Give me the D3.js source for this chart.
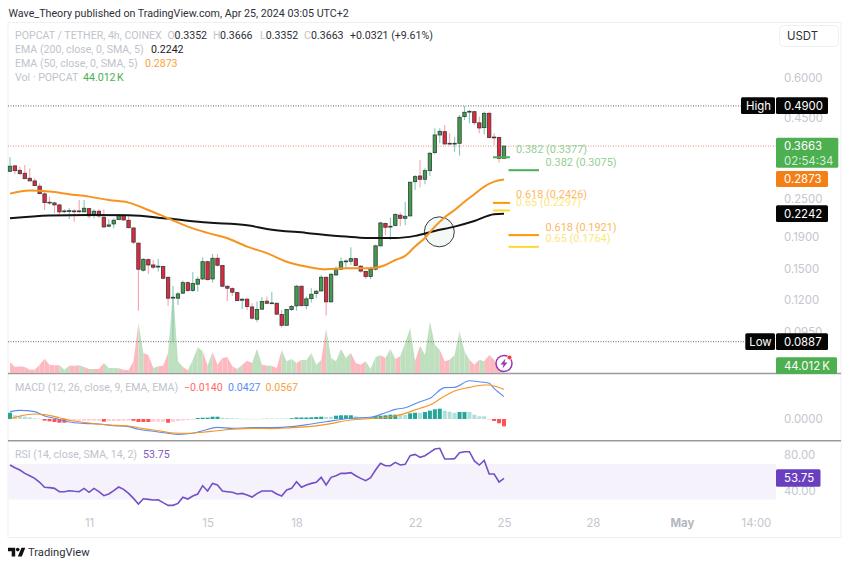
<!DOCTYPE html>
<html><head><meta charset="utf-8">
<script src="https://cdnjs.cloudflare.com/ajax/libs/d3/7.8.5/d3.min.js"></script>
<style>html,body{margin:0;padding:0;background:#fff}svg{display:block}text{font-family:Inter,"Noto Sans",sans-serif}</style>
</head><body><svg id="c" width="850" height="567"></svg>
<script>
// ---- values ----
const opens=[.3051,.3172,.3073,.3008,.2901,.2845,.2738,.2590,.2438,.2426,.2391,.2278,.2278,.2289,.2289,.2273,.2327,.2212,.2284,.2187,.2048,.2083,.2149,.2219,.2139,.2023,.1812,.1489,.1608,.1547,.1525,.1529,.1415,.1218,.1216,.1261,.1361,.1285,.1346,.1398,.1584,.1398,.1624,.1540,.1326,.1303,.1266,.1198,.1207,.1141,.1044,.1123,.1190,.1169,.1172,.1080,.0999,.1120,.1150,.1326,.1152,.1212,.1257,.1282,.1415,.1184,.1439,.1500,.1584,.1589,.1620,.1533,.1476,.1422,.1500,.1777,.2088,.2038,.2058,.2219,.2170,.2208,.2830,.2949,.2880,.3065,.3493,.3970,.4066,.3738,.3720,.3738,.4535,.4690,.4700,.4335,.4187,.4645,.3910,.3897,.3352];
const closes=[.3165,.3065,.2999,.2892,.2845,.2750,.2595,.2431,.2426,.2391,.2273,.2289,.2294,.2278,.2284,.2334,.2208,.2284,.2208,.2038,.2068,.2139,.2224,.2144,.2027,.1825,.1500,.1612,.1547,.1522,.1533,.1405,.1216,.1224,.1254,.1361,.1285,.1352,.1395,.1584,.1391,.1624,.1544,.1326,.1307,.1270,.1195,.1207,.1144,.1052,.1120,.1187,.1172,.1175,.1083,.0999,.1120,.1144,.1326,.1152,.1210,.1251,.1279,.1415,.1184,.1446,.1500,.1584,.1592,.1620,.1540,.1480,.1422,.1500,.1777,.2098,.2033,.2048,.2229,.2170,.2202,.2818,.2935,.2880,.3065,.3476,.3970,.4077,.3720,.3720,.3738,.4514,.4680,.4712,.4340,.4177,.4645,.3897,.3897,.3352,.3663];
const highs=[.3378,.3195,.3156,.3195,.3118,.2901,.2798,.2633,.2539,.2448,.2408,.2317,.2334,.2317,.2478,.2478,.2334,.2317,.2317,.2317,.2155,.2170,.2240,.2240,.2224,.2033,.1820,.1624,.1624,.1604,.1616,.1536,.1422,.1329,.1275,.1381,.1371,.1467,.1422,.1636,.1596,.1676,.1676,.1547,.1332,.1316,.1275,.1216,.1216,.1172,.1187,.1224,.1230,.1275,.1178,.1117,.1123,.1158,.1339,.1332,.1230,.1307,.1291,.1439,.1422,.1463,.1529,.1632,.1612,.1760,.1624,.1547,.1486,.1529,.1790,.2118,.2103,.2179,.2251,.2261,.2448,.2830,.2971,.3312,.3118,.3518,.4167,.4167,.4270,.4018,.3921,.4590,.4900,.4758,.4725,.4535,.4700,.4700,.4018,.3921,.3666];
const lows=[.3036,.2993,.2971,.2880,.2845,.2744,.2582,.2305,.2391,.2251,.2208,.2251,.2160,.2118,.2251,.2273,.2170,.2170,.2176,.2027,.2043,.2019,.2144,.2133,.2019,.1799,.1111,.1476,.1450,.1500,.1476,.1395,.1150,.0887,.1158,.1254,.1275,.1275,.1275,.1388,.1381,.1361,.1529,.1316,.1192,.1236,.1187,.1123,.1117,.1039,.1022,.1117,.1164,.1167,.1078,.0983,.0997,.1109,.1111,.1144,.1123,.1178,.1216,.1275,.1072,.1178,.1429,.1492,.1510,.1547,.1536,.1463,.1398,.1395,.1486,.1769,.1924,.1855,.2043,.2053,.2068,.2197,.2665,.2718,.2778,.2949,.3453,.3738,.3693,.3693,.3518,.3417,.4426,.4320,.4270,.4018,.3990,.3875,.3693,.3250,.3352];
const ema50Idx=[0,4,8,12,16,20,24,28,32,36,40,44,48,52,56,60,64,68,72,74,76,78,80,82,84,86,88,90,92,94,96,98,100];
const ema50=[.2595,.2652,.2633,.2584,.2539,.2478,.2431,.2305,.2170,.2043,.1952,.1878,.1767,.1685,.1584,.1529,.1500,.1510,.1510,.1516,.1547,.1604,.1652,.1770,.1882,.2043,.2187,.2305,.2448,.2584,.2730,.2830,.2873];
const ema200Idx=[0,8,16,24,32,40,48,52,60,68,72,78,82,86,90,94,98,100];
const ema200=[.2170,.2213,.2224,.2219,.2165,.2103,.2063,.2009,.1952,.1900,.1882,.1882,.1910,.1980,.2043,.2128,.2235,.2242];
const volumes=[60.5,33,36.9,33,18.2,18.2,45.7,78.7,45.7,42.4,42.4,18.2,40.2,40.2,42.4,33,22,22,22,55,27.5,27.5,25.9,18.2,14.9,64.4,275,110,99,27.5,36.9,40.2,110,456.5,64.4,33,14.9,71.5,141.4,119.4,40.2,115.5,45.7,82.5,88,36.9,22,45.7,67.7,55,132,45.7,40.2,40.2,27.5,126.5,64.4,77,55,73.2,69.9,110,45.7,71.5,242,82.5,64.4,132,82.5,110,55,45.7,64.4,22,88,97.4,82.5,132,77,91.9,165,247.5,64.4,150.2,99,284.4,155.7,126.5,64.4,73.2,99,229.4,119.4,73.2,45.7,73.2,64.4,99,73.2,27.5,44.012];
const macdHist=[.0120,.0071,.0057,.0044,.0032,.0013,.0006,-.0032,-.0044,-.0057,-.0071,-.0071,-.0038,-.0038,-.0032,-.0032,-.0032,-.0032,-.0032,-.0052,-.0038,-.0038,-.0038,-.0032,-.0032,-.0034,-.0057,-.0057,-.0057,-.0052,-.0052,-.0052,-.0071,-.0052,-.0038,-.0029,-.0019,-.0013,.0019,.0025,.0025,.0044,.0044,.0025,.0019,.0015,.0011,.0006,.0004,-.001,-.001,.0006,.0013,.001,.001,.001,.001,.0015,.0029,.0029,.0029,.0032,.0038,.0044,.0038,.0044,.0063,.0071,.0071,.0071,.0052,.0032,.0038,.0038,.0057,.0063,.0071,.0082,.0082,.0076,.0076,.0109,.0120,.0120,.0134,.0159,.0185,.0197,.0159,.0139,.0120,.0134,.0134,.0134,.0082,.0052,.0052,-.0019,-.0038,-.0082,-.0140];
const histStrong=[1,0,0,0,0,0,0,1,1,1,1,1,0,0,0,0,0,0,0,1,0,0,0,0,0,1,1,1,1,0,0,0,1,0,0,0,0,0,1,1,1,1,1,0,0,0,0,0,0,0,0,0,0,0,0,0,0,1,1,1,1,1,1,1,0,0,1,1,1,1,0,0,0,0,1,1,1,1,1,0,0,1,1,0,1,1,1,1,0,0,0,1,1,0,0,0,0,0,1,1,1];
const macdIdx=[0,2,5,7,9,12,15,18,21,24,26,29,32,34,37,39,42,45,49,53,57,61,64,69,73,76,78,80,83,85,88,90,93,95,97,98,100];
const macdLine=[.0140,.0165,.0140,.0057,.0013,-.0057,-.0083,-.0095,-.0127,-.0146,-.0197,-.0235,-.0273,-.0293,-.0273,-.0223,-.0159,-.0178,-.0165,-.0165,-.0146,-.0095,-.0051,.0013,.0032,.0121,.0184,.0216,.0331,.0394,.0598,.0604,.0731,.0712,.0681,.0585,.0427];
const signalIdx=[0,2,5,7,10,12,16,20,24,27,30,33,36,39,42,45,49,53,57,61,64,69,74,78,83,85,88,90,93,96,97,98,100];
const signalLine=[0,.0057,.0095,.0083,.0025,-.0025,-.0076,-.0114,-.0134,-.0184,-.0223,-.0267,-.0273,-.0254,-.0223,-.0197,-.0178,-.0184,-.0165,-.0140,-.0102,-.0019,.0013,.0057,.0204,.0267,.0439,.0534,.0604,.0649,.0649,.0630,.0567];
const rsi=[68.8,65.8,63.2,59.4,56.8,53.8,49.4,43.8,43.4,42.6,38.9,38.9,40,39.3,38.9,42.6,38.2,42.6,38.9,34.4,36.3,40,44.1,41.5,37,31.4,25.1,31,30.3,29.6,29.9,26.6,23.6,23.6,25.8,32.6,30.7,34,36.3,45.6,39.7,48.2,46.4,39.7,38.9,38.2,36.3,37,35.2,32.9,36.7,39.7,39.7,39.7,36.3,34,40.8,42.6,50.1,43.8,46.4,48.2,49.4,55,46.4,55,56.8,59.4,59.4,60.2,56.8,53.8,51.2,54.6,63.2,70.7,68,68,71.8,68.8,69.5,79.2,80.7,77.4,79.2,83,86.7,87.5,75.5,75.5,75.9,82.6,83.7,83.7,73.3,68.8,74,58.7,58.7,49.7,53.75];
const priceTicks=[0.6,0.45,0.25,0.19,0.15,0.12,0.095];
const rsiTicks=[80,40];
const xTickIdx=[16,40,58,82,100,118,136,151];
const xTickLabels=["11","15","18","22","25","28","May","14:00"];
const fibLevels=["0.382","0.382","0.618","0.65","0.618","0.65"];
const fibPrices=[.3377,.3075,.2426,.2297,.1921,.1764];
const fibNear=[1,0,1,1,0,0];
const fibColors=["#4caf50","#4caf50","#ff9800","#fdd835","#ff9800","#fdd835"];
const fibTextColors=["#93cf95","#93cf95","#fdb863","#fbe77c","#fdb863","#fbe77c"];
const legendMain=["POPCAT / TETHER, 4h, COINEX"];
const ohlcLabels=["O","H","L","C"];
const ohlcValues=["0.3352","0.3666","0.3352","0.3663"];

// ---- layout ----
const svg=d3.select("#c");
const GREEN="#3f9e4d",RED="#e2283e",EDGE="#3a3a3a";
const LEG=10.6;
const x=d3.scaleLinear().domain([0,100]).range([10,504]);
const y=d3.scaleLog().domain([0.6,0.12]).range([78,300]);
const yVol=d3.scaleLinear().domain([0,550]).range([373,273]);
const yM=d3.scaleLinear().domain([0,0.1]).range([419,366.6]);
const yR=d3.scaleLinear().domain([40,80]).range([490.7,455]);
const n=closes.length;
const T=(a,b,s,o={})=>{const t=svg.append("text").attr("x",a).attr("y",b).text(s)
  .attr("font-size",o.size||LEG).attr("fill",o.fill||"#b8bcc6").attr("text-anchor",o.anchor||"start")
  .attr("dominant-baseline","central").attr("font-weight",o.weight||400);
  if((o.size||LEG)!==11.4) t.style("font-family","Roboto");
  return t;};

T(8.5,13,"Wave_Theory published on TradingView.com, Apr 25, 2024 03:05 UTC+2",{fill:"#2e3038",size:10.7});
svg.append("rect").attr("x",8).attr("y",22.5).attr("width",833).attr("height",515).attr("fill","#fff").attr("stroke","#eef0f3");

// RSI band
svg.append("rect").attr("x",8.5).attr("width",767.5).attr("y",yR(70)).attr("height",yR(30)-yR(70)).attr("fill","#f5f2fb");

// separators
[373.5,440.7].forEach(s=>svg.append("line").attr("x1",8).attr("x2",841).attr("y1",s).attr("y2",s).attr("stroke","#9a9a9e").attr("stroke-width",1.4));

// volume area: one segment per candle
const volG=svg.append("g");
for(let i=1;i<n;i++){
  const up=closes[i]>=opens[i];
  volG.append("path").attr("fill",up?"#bfe0bf":"#fcb9c0")
    .attr("d",`M${x(i-1)},${yVol(0)}L${x(i-1)},${yVol(volumes[i-1])}L${x(i)},${yVol(volumes[i])}L${x(i)},${yVol(0)}Z`);
}
// level lines
const dotted=(yy,x2,c)=>svg.append("line").attr("x1",8).attr("x2",x2).attr("y1",yy).attr("y2",yy).attr("stroke",c).attr("stroke-width",1).attr("stroke-dasharray","1 1.5");
dotted(y(0.49),741,"#666");
dotted(y(0.3663),776,"#e0907f");
dotted(y(0.0887),745,"#666");

// wicks and bodies
const wickG=svg.append("g"),bodyG=svg.append("g");
closes.forEach((c,i)=>{
  const up=c>=opens[i];
  wickG.append("line").attr("x1",x(i)).attr("x2",x(i)).attr("y1",y(highs[i])).attr("y2",y(lows[i]))
    .attr("stroke",up?"#82c9bd":"#f7a3ad").attr("stroke-width",1.1);
});
// circle annotation
svg.append("circle").attr("cx",x(86)+4.5).attr("cy",y(0.2)+2.3).attr("r",15).attr("fill","#f1f7f2").attr("fill-opacity",.8).attr("stroke","#3a3a3a").attr("stroke-width",1);
closes.forEach((c,i)=>{
  const up=c>=opens[i],t=y(Math.max(c,opens[i])),b=y(Math.min(c,opens[i]));
  bodyG.append("rect").attr("x",x(i)-1.7).attr("width",3.4).attr("y",t).attr("height",Math.max(b-t,.8))
    .attr("fill",up?GREEN:RED).attr("stroke",EDGE).attr("stroke-width",.8);
});
bodyG.raise();
// EMAs
const ln=(ix,vals,sc)=>d3.line().x((d,k)=>x(ix[k])).y(d=>sc(d)).curve(d3.curveMonotoneX)(vals);
svg.append("path").attr("d",ln(ema200Idx,ema200,y)).attr("fill","none").attr("stroke","#141414").attr("stroke-width",2);
svg.append("path").attr("d",ln(ema50Idx,ema50,y)).attr("fill","none").attr("stroke","#f7941f").attr("stroke-width",2);

// fib levels
fibPrices.forEach((p,i)=>{
  const near=fibNear[i],x1=near?493:508.5,x2=near?510:539,tx=near?516:545.6,yy=y(p);
  svg.append("line").attr("x1",x1).attr("x2",x2).attr("y1",yy).attr("y2",yy).attr("stroke",fibColors[i]).attr("stroke-width",2);
  T(tx,yy-8,`${fibLevels[i]} (${p.toFixed(4)})`,{fill:fibTextColors[i],size:10.9});
});

// MACD panel
const hG=svg.append("g");
macdHist.forEach((v,i)=>{
  const s=histStrong[i],col=v>=0?(s?"#26a69a":"#b2dfdb"):(s?"#ff5252":"#ffcdd2");
  const a=yM(Math.max(v,0)),b=yM(Math.min(v,0));
  hG.append("rect").attr("x",x(i)-2).attr("width",4).attr("y",a).attr("height",Math.max(b-a,.5)).attr("fill",col);
});
svg.append("path").attr("d",ln(macdIdx,macdLine,yM)).attr("fill","none").attr("stroke","#5b8def").attr("stroke-width",1.1);
svg.append("path").attr("d",ln(signalIdx,signalLine,yM)).attr("fill","none").attr("stroke","#f7941f").attr("stroke-width",1.1);

// RSI line
svg.append("path").attr("d",d3.line().x((d,i)=>x(i)).y(d=>yR(d))(rsi)).attr("fill","none").attr("stroke","#7350c4").attr("stroke-width",1.6);

// axes
const axisP=d3.axisRight(y).tickValues(priceTicks).tickSize(0).tickPadding(0).tickFormat(d3.format(".4f"));
const gP=svg.append("g").attr("transform","translate(784,0)").call(axisP);
const axisM=d3.axisRight(yM).tickValues([0]).tickSize(0).tickPadding(0).tickFormat(d3.format(".4f"));
const gM=svg.append("g").attr("transform","translate(784,0)").call(axisM);
const axisR=d3.axisRight(yR).tickValues(rsiTicks).tickSize(0).tickPadding(0).tickFormat(d3.format(".2f"));
const gR=svg.append("g").attr("transform","translate(784,0)").call(axisR);
const axisX=d3.axisBottom(x).tickValues(xTickIdx).tickSize(0).tickPadding(0).tickFormat((d,i)=>xTickLabels[i]);
const gX=svg.append("g").attr("transform","translate(0,519)").call(axisX);
[gP,gM,gR,gX].forEach(g=>{g.select(".domain").remove();g.selectAll("text").attr("font-size",11.4).attr("fill","#c4c7cf").attr("font-family","Inter");});
gX.selectAll("text").filter(function(){return this.textContent==="May"}).attr("font-weight",700).attr("fill","#b4b7c0");

// tags
const tag=(x0,w,y0,h,fill,lines)=>{
  svg.append("rect").attr("x",x0).attr("y",y0).attr("width",w).attr("height",h).attr("rx",1.5).attr("fill",fill);
  lines.forEach((l,i)=>T(x0+(l.dx??8),y0+h/(lines.length*2)*(2*i+1)+.3,l.s,{fill:l.c||"#fff",size:11.4}));
};
tag(741,34,97.3,16.7,"#050505",[{s:"High",dx:5}]);
tag(776,52,97.3,16.7,"#050505",[{s:"0.4900"}]);
tag(776,62.3,137.7,30,"#4caf50",[{s:"0.3663"},{s:"02:54:34",c:"#d6eed7"}]);
tag(776,52,171,16,"#f57f17",[{s:"0.2873"}]);
tag(776,52,205.3,16.7,"#050505",[{s:"0.2242"}]);
tag(745.3,29.7,333.3,16.7,"#050505",[{s:"Low",dx:4}]);
tag(776,52,333.3,16.7,"#050505",[{s:"0.0887"}]);
tag(776,61,357.3,16.7,"#4caf50",[{s:"44.012\u202fK"}]);
tag(776,44.5,469.3,17.4,"#6a3fbf",[{s:"53.75"}]);

// USDT button
svg.append("rect").attr("x",779.5).attr("y",25.5).attr("width",59).attr("height",21).attr("rx",4).attr("fill","#fff").attr("stroke","#eef0f3");
T(787,36,"USDT",{fill:"#2e3038",size:11.4});

// legends
T(15,35,legendMain[0],{fill:"#c0c3cc"});
[167.5,213,260,304].forEach((a,i)=>{T(a,35,ohlcLabels[i],{fill:"#c0c3cc"});T(a+(i==2?5.7:7),35,ohlcValues[i],{fill:"#2e3038"});});
T(350,35,"+0.0321 (+9.61%)",{fill:"#2e3038"});
T(15,49.3,"EMA (200, close, 0, SMA, 5)",{fill:"#c0c3cc"});T(151,49.3,"0.2242",{fill:"#1e1e1e"});
T(15,63.3,"EMA (50, close, 0, SMA, 5)",{fill:"#c0c3cc"});T(145,63.3,"0.2873",{fill:"#f9a13c"});
T(15,77,"Vol · POPCAT",{fill:"#c0c3cc"});T(83,77,"44.012\u202fK",{fill:"#4caf50"});
T(15,387.3,"MACD (12, 26, close, 9, EMA, EMA)",{fill:"#c0c3cc"});
T(184,387.3,"\u22120.0140",{fill:"#ff6b6b"});T(228,387.3,"0.0427",{fill:"#5b8def"});T(265.5,387.3,"0.0567",{fill:"#f9a13c"});
T(15,454.4,"RSI (14, close, SMA, 14, 2)",{fill:"#c0c3cc"});T(143,454.4,"53.75",{fill:"#7e57c2"});

// alert icon
svg.append("circle").attr("cx",504).attr("cy",363.5).attr("r",8).attr("fill","#fff").attr("stroke","#9c35b5").attr("stroke-width",1.5);
svg.append("path").attr("d","M505.5,358.5L500.5,364.5L503.5,364.5L502.5,368.5L507.5,362.5L504.5,362.5Z").attr("fill","#9c35b5");
svg.append("circle").attr("cx",509.5).attr("cy",357.5).attr("r",2.3).attr("fill","#ef3b3b").attr("stroke","#fff").attr("stroke-width",.6);

// TradingView logo
svg.append("path").attr("d","M8,547.8H15.2V556.5H11.7V551.3H8Z").attr("fill","#111");
svg.append("circle").attr("cx",17.7).attr("cy",549.6).attr("r",1.8).attr("fill","#111");
svg.append("path").attr("d","M21.5,547.8H25.3L21.8,556.5H17.8Z").attr("fill","#111");
T(28,552.5,"TradingView",{fill:"#2e3038",size:11.2});
</script></body></html>
